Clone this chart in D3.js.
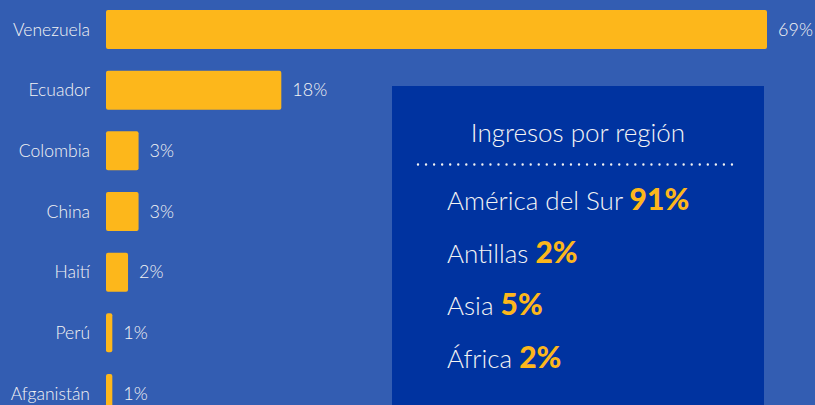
<!DOCTYPE html>
<html><head><meta charset="utf-8">
<script src="https://cdn.jsdelivr.net/npm/d3@7"></script>
<style>
html,body{margin:0;padding:0;background:#335db2;overflow:hidden}
svg{display:block}
text{font-family:Lato,"Open Sans",sans-serif}
</style></head>
<body>
<script>
const countries = ["Venezuela","Ecuador","Colombia","China","Haití","Perú","Afganistán"];
const shares = [69, 18.3, 3.4, 3.4, 2.3, 0.66, 0.66];
const boxTitle = "Ingresos por región";
const regions = ["América del Sur","Antillas","Asia","África"];
const regionShares = [91, 2, 5, 2];

const W = 815, H = 405;
const svg = d3.select("body").append("svg").attr("width", W).attr("height", H);
svg.append("rect").attr("width", W).attr("height", H).attr("fill", "#335db2");

const x = d3.scaleLinear().domain([0, 69]).range([106, 767]);
const y = d3.scaleBand().domain(countries).range([10, 413]).paddingInner(0.357).paddingOuter(0);

const rows = svg.append("g").selectAll("g").data(countries).join("g");
rows.append("rect")
  .attr("x", x(0)).attr("y", d => y(d))
  .attr("width", (d,i) => x(shares[i]) - x(0))
  .attr("height", y.bandwidth())
  .attr("rx", 2).attr("fill", "#fdb71b");
rows.append("text")
  .attr("x", 90).attr("y", d => y(d) + y.bandwidth()/2).attr("dy", "0.35em")
  .attr("text-anchor", "end").attr("fill", "#f4f4f4").attr("font-size", 17.5).attr("font-weight", 300)
  .text(d => d);
rows.append("text")
  .attr("x", (d,i) => x(shares[i]) + 11).attr("y", d => y(d) + y.bandwidth()/2).attr("dy", "0.35em")
  .attr("fill", "#f4f4f4").attr("font-size", 18).attr("font-weight", 300)
  .text((d,i) => Math.round(shares[i]) + "%");

// Summary box
const box = svg.append("g");
box.append("rect").attr("x", 392).attr("y", 86).attr("width", 372).attr("height", 330).attr("fill", "#0033a0");
box.append("text").attr("x", 578).attr("y", 142).attr("text-anchor", "middle")
  .attr("fill", "#f4f4f4").attr("font-size", 26).attr("font-weight", 300).text(boxTitle);
box.append("line").attr("x1", 418).attr("x2", 740).attr("y1", 164.5).attr("y2", 164.5)
  .attr("stroke", "#f2f2f2").attr("stroke-width", 2.4).attr("stroke-linecap", "round")
  .attr("stroke-dasharray", "0 8.05");

const ry = d3.scalePoint().domain(regions).range([210, 368]);
const rt = box.selectAll("text.reg").data(regions).join("text").attr("class", "reg")
  .attr("x", 447).attr("y", d => ry(d));
rt.append("tspan").attr("fill", "#f4f4f4").attr("font-size", 26).attr("font-weight", 300).text(d => d + " ");
rt.append("tspan").attr("fill", "#fdb71b").attr("font-size", 30).attr("font-weight", 900).text((d,i) => regionShares[i] + "%");
</script>
</body></html>
